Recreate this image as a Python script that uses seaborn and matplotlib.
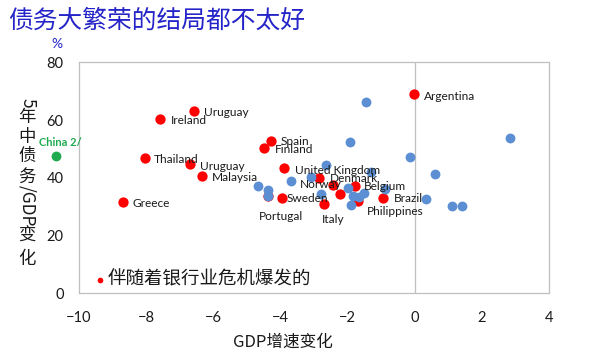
"""Debt booms and GDP growth: scatter of 5-year change in debt/GDP vs change in GDP growth"""
import matplotlib
import pandas as pd
import seaborn as sns
from matplotlib import pyplot as plt

matplotlib.use("Agg")

# data: banking-crisis episodes (red), labelled
crisis_names = [
    "Uruguay", "Ireland", "Thailand", "Uruguay", "Malaysia", "Greece",
    "Spain", "Finland", "United Kingdom", "Sweden", "Portugal", "Argentina",
    "Denmark", "Norway", "Italy", "Belgium", "Philippines", "Brazil", "",
]
crisis_gdp = [
    -6.57, -7.60, -8.03, -6.69, -6.35, -8.70,
    -4.28, -4.50, -3.88, -3.96, -4.36, -0.03,
    -2.86, -2.43, -2.69, -1.78, -1.69, -0.93, -2.23,
]
crisis_debt = [
    63.3, 60.4, 47.0, 44.9, 40.5, 31.7,
    52.9, 50.3, 43.3, 33.1, 33.8, 68.9,
    40.1, 37.4, 30.8, 37.3, 31.8, 33.1, 34.5,
]

# other debt booms (blue), unlabelled
other_gdp = [
    -1.46, -1.94, 2.85, -0.14, 0.60, -2.64, -3.10, -3.69, -4.66, -4.38, -4.36,
    -2.80, -2.00, -1.29, -1.84, -1.66, -1.51, -1.90, -0.89, 0.33, 1.10, 1.41,
]
other_debt = [
    66.2, 52.4, 53.9, 47.3, 41.3, 44.4, 40.2, 38.9, 37.3, 35.9, 33.8,
    34.5, 36.6, 42.0, 33.6, 33.3, 34.7, 30.7, 36.1, 32.8, 30.2, 30.2,
]

china_gdp = [-10.69]
china_debt = [47.4]

# label offsets in pixels (text left edge / centre vs. the dot)
label_offsets = [
    (10, -2), (11, -2), (9, -2), (10, -3), (10, -1), (10, -2),
    (10, -1), (11, -1), (11, -2), (5, -1), (-9, -21), (10, -2),
    (11, -1), (-33, 1), (-3, -15), (9, -1), (9, -10), (10, -1), (0, 0),
]

crisis = pd.DataFrame({"gdp": crisis_gdp, "debt": crisis_debt, "name": crisis_names})
other = pd.DataFrame({"gdp": other_gdp, "debt": other_debt})
china = pd.DataFrame({"gdp": china_gdp, "debt": china_debt})

sns.set_style("white")
plt.rcParams["font.family"] = ["Lato", "Noto Sans CJK SC", "DejaVu Sans"]
cjk = ["Noto Sans CJK SC", "DejaVu Sans"]

red = "#FF0000"
blue = "#5B8ED3"
green = "#1FAA4F"
grey = "#BFBFBF"

fig = plt.figure(figsize=(5.9, 3.61), dpi=100)
ax = fig.add_axes([0.1339, 0.1875, 0.7966, 0.6399])

sns.scatterplot(ax=ax, data=crisis, x="gdp", y="debt", color=red, s=55,
                linewidth=0, zorder=3, label="伴随着银行业危机爆发的")
sns.scatterplot(ax=ax, data=other, x="gdp", y="debt", color=blue, s=50,
                linewidth=0, zorder=4, legend=False)
sns.scatterplot(ax=ax, data=china, x="gdp", y="debt", color=green, s=50,
                linewidth=0, zorder=4, legend=False, clip_on=False)

for (_, row), (dx, dy) in zip(crisis.iterrows(), label_offsets):
    if not row["name"]:
        continue
    ax.annotate(row["name"], (row["gdp"], row["debt"]), xytext=(dx, dy),
                textcoords="offset pixels", ha="left", va="center",
                fontsize=8.6, color="#1a1a1a", zorder=5)

ax.annotate("China 2/", (china_gdp[0], china_debt[0]), xytext=(-17, 14),
            textcoords="offset pixels", ha="left", va="center",
            fontsize=8, color=green, fontweight="bold", annotation_clip=False)

ax.axvline(0, color=grey, linewidth=0.9, zorder=1)
ax.set_xlim(-10, 4)
ax.set_ylim(0, 80)
ax.set_xticks(range(-10, 5, 2))
ax.set_yticks(range(0, 81, 20))
ax.tick_params(axis="both", length=0, labelsize=10.5, colors="#1a1a1a")
ax.tick_params(axis="y", pad=11)
ax.tick_params(axis="x", pad=13)
for sp in ax.spines.values():
    sp.set_color(grey)
    sp.set_linewidth(0.9)
ax.set_xlabel("")
ax.set_ylabel("")

leg = ax.legend(loc="center left", bbox_to_anchor=(0.018, 0.058), frameon=False,
                markerscale=0.55, handlelength=0.6, handletextpad=0.1,
                borderaxespad=0, prop={"family": cjk, "size": 13.3})
for t in leg.get_texts():
    t.set_color("#1a1a1a")

# title and axis labels
fig.text(8 / 590, 1 - 21 / 361, "债务大繁荣的结局都不太好", family=cjk,
         fontsize=17.8, color="#2424C8", ha="left", va="center")
fig.text(57 / 590, 1 - 44 / 361, "%", fontsize=10, color="#2424C8",
         ha="center", va="center")
fig.text(283 / 590, 1 - 342 / 361, "GDP增速变化", family=cjk, fontsize=12,
         color="#1a1a1a", ha="center", va="center")

ylabel_parts = [
    ("5", 103, -90), ("年", 117, 0), ("中", 137, 0), ("债", 156, 0),
    ("务", 177, 0), ("/GDP", 206, -90), ("变", 236, 0), ("化", 259, 0),
]
for txt, ypx, rot in ylabel_parts:
    fig.text(27 / 590, 1 - ypx / 361, txt, family=cjk, fontsize=12.5,
             color="#1a1a1a", ha="center", va="center", rotation=rot)

fig.savefig("out.png", dpi=100)
